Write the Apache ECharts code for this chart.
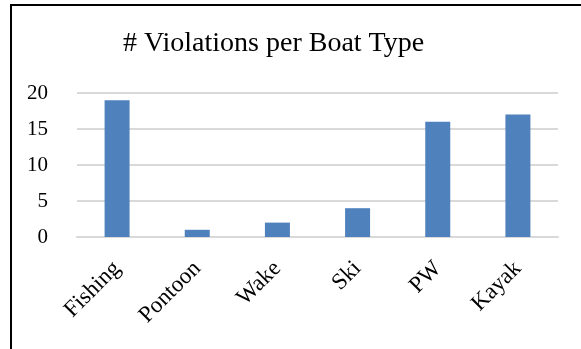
<!DOCTYPE html>
<html>
<head>
<meta charset="utf-8">
<script src="https://cdn.jsdelivr.net/npm/echarts@6/dist/echarts.min.js"></script>
<style>
  html, body { margin: 0; padding: 0; background: #fff; }
  #chart { width: 581px; height: 349px; }
</style>
</head>
<body>
<div id="chart"></div>
<script>
// Boat types and violation counts
const categories = ['Fishing', 'Pontoon', 'Wake', 'Ski', 'PW', 'Kayak'];
const violations = [19, 1, 2, 4, 16, 17];
const yTicks = { min: 0, max: 20, interval: 5 };

const FONT = '"Liberation Serif", "DejaVu Serif", serif';

const chart = echarts.init(document.getElementById('chart'), null, { renderer: 'canvas' });
chart.setOption({
  animation: false,
  backgroundColor: '#fff',
  title: {
    text: '# Violations per Boat Type',
    left: 118,
    top: 25,
    textStyle: { fontFamily: FONT, fontSize: 28, fontWeight: 'normal', color: '#000' }
  },
  graphic: [{
    type: 'rect',
    shape: { x: 11, y: 5, width: 700, height: 500 },
    style: { fill: 'none', stroke: '#000', lineWidth: 2 },
    silent: true
  }],
  grid: { left: 77, right: 23, top: 93, bottom: 112 },
  xAxis: {
    type: 'category',
    data: categories,
    axisLine: { show: true, lineStyle: { color: '#d9d9d9', width: 2 } },
    axisTick: { show: false },
    axisLabel: {
      rotate: 45,
      margin: 28,
      fontFamily: FONT,
      fontSize: 23,
      color: '#000'
    }
  },
  yAxis: {
    type: 'value',
    min: yTicks.min,
    max: yTicks.max,
    interval: yTicks.interval,
    axisLine: { show: false },
    axisTick: { show: false },
    splitLine: { lineStyle: { color: '#d9d9d9', width: 2 } },
    axisLabel: {
      margin: 29,
      fontFamily: FONT,
      fontSize: 21,
      color: '#000'
    }
  },
  series: [{
    type: 'bar',
    data: violations,
    barWidth: 25,
    itemStyle: { color: '#4f81bd' }
  }]
});
</script>
</body>
</html>
